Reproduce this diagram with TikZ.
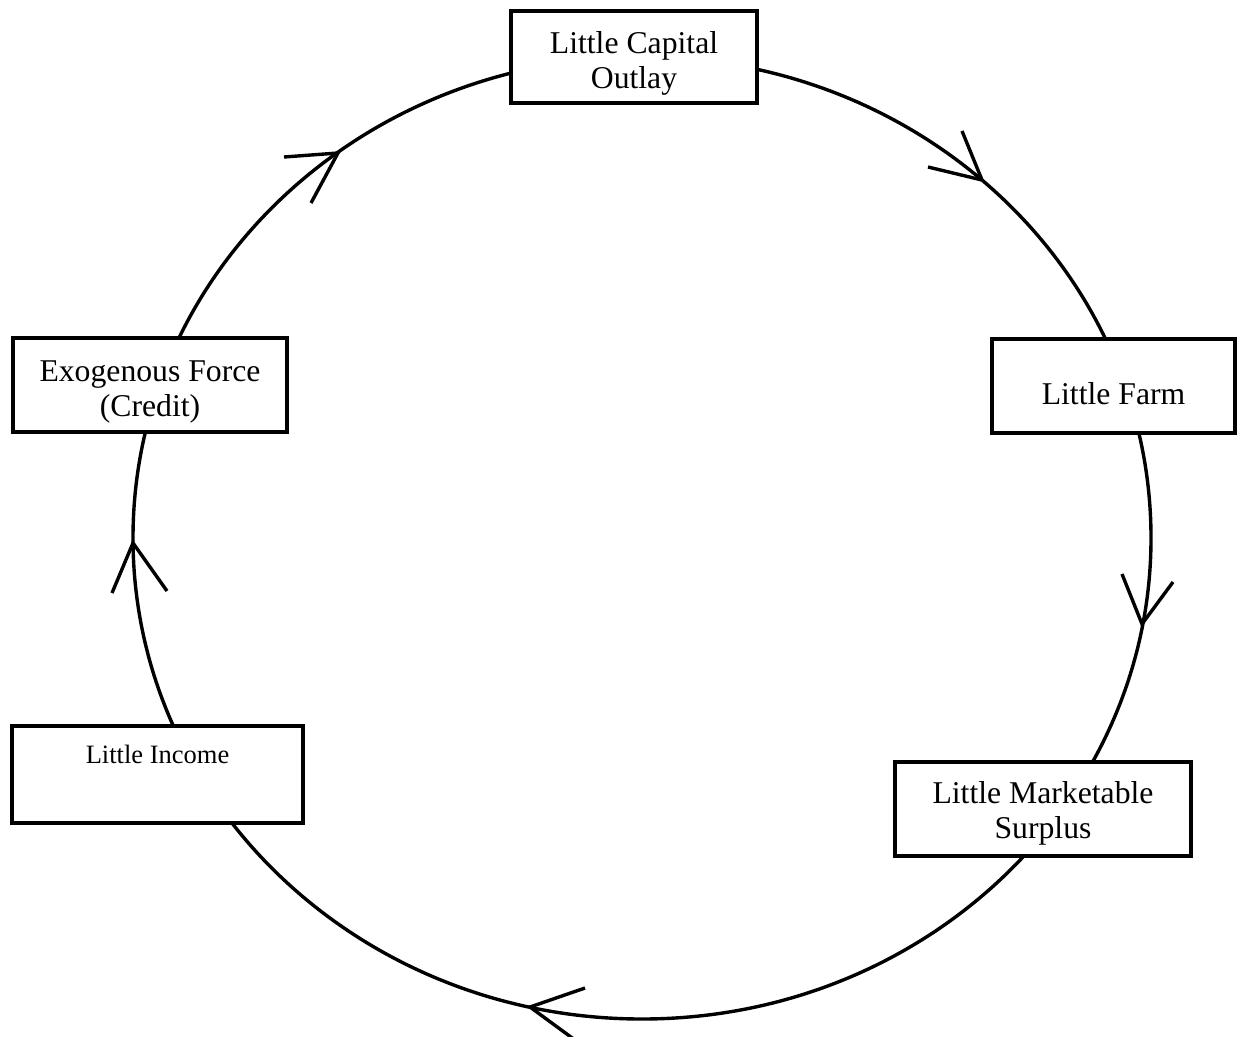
\documentclass[tikz,border=0pt]{standalone}
\usepackage{fontspec}
\setmainfont{Liberation Serif}
\newcommand{\lowered}[2]{\raisebox{-#1}[\height][\depth]{#2}}
\begin{document}
\begin{tikzpicture}[x=1pt,y=-1pt,
  box/.style={draw, line width=4pt, fill=white, rectangle, inner sep=0pt,
    align=center, font=\fontsize{31.7}{35}\selectfont},
  ring/.style={line width=3.4pt},
  chev/.style={line width=3.4pt, line join=miter}]
\useasboundingbox (0,0) rectangle (1238,1036);
\clip (0,0) rectangle (1238,1036);
% the cycle
\draw[ring] (642,538) ellipse [x radius=509, y radius=481];
% boxes
\node[box, minimum width=246pt, minimum height=92pt] (capital) at (634,57)
  {\lowered{6pt}{Little Capital}\\\lowered{6pt}{Outlay}};
\node[box, minimum width=243pt, minimum height=94pt] (farm) at (1113.5,386)
  {\lowered{8pt}{Little Farm}};
\node[box, minimum width=296pt, minimum height=94pt] (surplus) at (1043,809)
  {\lowered{4pt}{Little Marketable}\\\lowered{4pt}{Surplus}};
\node[box, minimum width=291pt, minimum height=97pt] (income) at (157.5,774.5) {};
\node[anchor=base, inner sep=0pt, font=\fontsize{26.5}{30}\selectfont] (incomeText) at (157.5,763) {Little Income};
\node[box, minimum width=274pt, minimum height=94pt] (credit) at (150,385)
  {\lowered{7pt}{Exogenous Force}\\\lowered{7pt}{(Credit)}};
% open arrowheads on the cycle
\coordinate (h1) at (982,180);
\coordinate (h2) at (1142,624);
\coordinate (h3) at (530,1007);
\coordinate (h4) at (133,543);
\coordinate (h5) at (338,153);
\draw[chev] (h1) ++(-54,-13) -- (h1) -- ++(-20,-49);
\draw[chev] (h2) ++(-20,-50) -- (h2) -- ++(31,-42);
\draw[chev] (h3) ++(55,-19) -- (h3) -- ++(45,33);
\draw[chev] (h4) ++(-21,50) -- (h4) -- ++(34,48);
\draw[chev] (h5) ++(-54,4) -- (h5) -- ++(-27,50);
\end{tikzpicture}
\end{document}
